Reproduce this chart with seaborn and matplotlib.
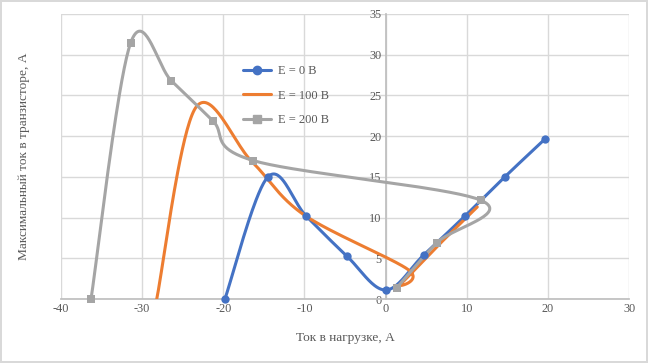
import numpy as np
import pandas as pd
import matplotlib
matplotlib.use("Agg")
import matplotlib.pyplot as plt
from matplotlib.lines import Line2D
import seaborn as sns

# Data (smoothed-line scatter, Excel style)
e0_x = [-19.8, -14.5, -9.8, -4.8, 0.0, 4.7, 9.8, 14.7, 19.7]
e0_y = [0.0, 15.0, 10.2, 5.3, 1.1, 5.4, 10.2, 15.0, 19.7]

e100_x = [-28.2, -23.4, -16.5, -10.0, 2.8, 1.8, 6.5, 11.3]
e100_y = [0.0, 23.5, 16.9, 10.3, 3.6, 1.8, 6.6, 11.3]

e200_x = [-36.3, -31.4, -26.4, -21.3, -16.3, 11.8, 6.3, 1.4]
e200_y = [0.0, 31.5, 26.8, 21.9, 17.0, 12.1, 6.9, 1.4]

series_names = ["E = 0 В", "E = 100 В", "E = 200 В"]
colors = ["#4472C4", "#ED7D31", "#A5A5A5"]
markers = ["o", None, "s"]

x_ticks = [-40, -30, -20, -10, 0, 10, 20, 30]
y_ticks = [0, 5, 10, 15, 20, 25, 30, 35]
x_label = "Ток в нагрузке, А"
y_label = "Максимальный ток в транзисторе, А"


def smooth(xs, ys, n=40):
    """Excel-like smoothing: cubic Bezier with Catmull-Rom tangents (1/6)."""
    P = np.column_stack([xs, ys]).astype(float)
    out = [P[0]]
    t = np.linspace(0, 1, n)[1:]
    for i in range(len(P) - 1):
        p0 = P[i - 1] if i > 0 else P[i]
        p1, p2 = P[i], P[i + 1]
        p3 = P[i + 2] if i + 2 < len(P) else P[i + 1]
        c1 = p1 + (p2 - p0) / 6.0
        c2 = p2 - (p3 - p1) / 6.0
        seg = ((1 - t) ** 3)[:, None] * p1 + (3 * (1 - t) ** 2 * t)[:, None] * c1 \
            + (3 * (1 - t) * t ** 2)[:, None] * c2 + (t ** 3)[:, None] * p2
        out.extend(seg)
    out = np.array(out)
    return out[:, 0], out[:, 1]


sns.set_theme(style="white")
plt.rcParams["font.family"] = ["Liberation Serif", "DejaVu Serif"]
plt.rcParams["axes.unicode_minus"] = False

fig = plt.figure(figsize=(6.48, 3.63), dpi=100)
fig.patch.set_facecolor("white")
fig.patch.set_edgecolor("#D9D9D9")
fig.patch.set_linewidth(1.5)
ax = fig.add_axes([61 / 648, 1 - 299 / 363, 568 / 648, 285 / 363])

all_data = [(e0_x, e0_y), (e100_x, e100_y), (e200_x, e200_y)]
for (xs, ys), name, col, mk in zip(all_data, series_names, colors, markers):
    sx, sy = smooth(xs, ys)
    df = pd.DataFrame({"x": sx, "y": sy})
    sns.lineplot(data=df, x="x", y="y", sort=False, estimator=None, color=col,
                 linewidth=2.2, ax=ax, zorder=3)
    if mk is not None:
        dfm = pd.DataFrame({"x": xs, "y": ys})
        sns.scatterplot(data=dfm, x="x", y="y", marker=mk, color=col, s=36,
                        edgecolor=col, linewidth=0, ax=ax, zorder=4, clip_on=False)

ax.set_xlim(-40, 30)
ax.set_ylim(0, 35)
ax.set_xticks(x_ticks)
ax.set_yticks(y_ticks)
ax.grid(True, color="#D9D9D9", linewidth=1)
ax.set_axisbelow(True)

for s in ["top", "right"]:
    ax.spines[s].set_visible(False)
ax.spines["left"].set_position(("data", 0))
ax.spines["left"].set_color("#BFBFBF")
ax.spines["bottom"].set_color("#BFBFBF")
ax.spines["left"].set_zorder(2)
ax.tick_params(length=0, colors="#595959", labelsize=8.8, pad=3)

ax.set_xlabel(x_label, fontsize=9.6, color="#595959", labelpad=12)
ax.set_ylabel(y_label, fontsize=9.6, color="#595959")
ax.yaxis.set_label_coords(-0.055, 0.5)

handles = [
    Line2D([], [], color=colors[0], lw=2.2, marker="o", markersize=6),
    Line2D([], [], color=colors[1], lw=2.2),
    Line2D([], [], color=colors[2], lw=2.2, marker="s", markersize=6),
]
leg = ax.legend(handles, series_names, loc="upper left", bbox_to_anchor=(0.30, 0.86),
                frameon=False, fontsize=9, labelcolor="#595959", handlelength=2.3,
                labelspacing=1.0, handletextpad=0.5)

fig.savefig("out.png", dpi=100, facecolor=fig.get_facecolor(), edgecolor=fig.get_edgecolor())
